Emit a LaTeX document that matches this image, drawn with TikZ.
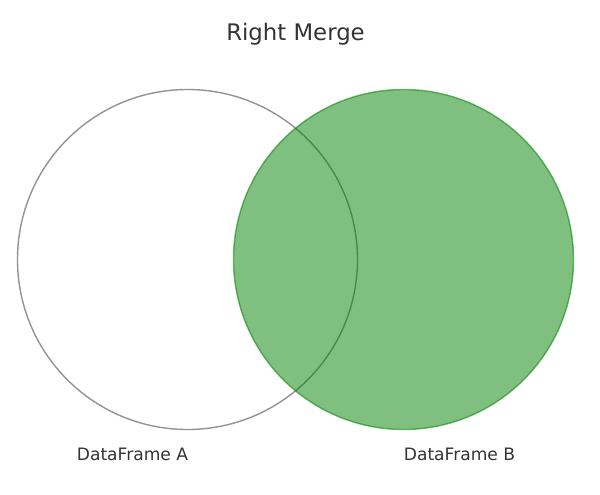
\documentclass[tikz,border=0pt]{standalone}
\usepackage{fontspec}
\setmainfont{DejaVu Sans}
\definecolor{txt}{HTML}{333333}
\definecolor{mgreen}{HTML}{008000}
\begin{document}
\begin{tikzpicture}[x=1pt,y=-1pt,
  setA/.style={draw=gray!85, line width=1.4pt},
  setB/.style={fill=mgreen, fill opacity=0.5, draw=mgreen, draw opacity=0.55, line width=1.4pt},
  lbl/.style={text=txt, font=\fontsize{17.1}{20}\selectfont, inner sep=0pt},
  ttl/.style={text=txt, font=\fontsize{22.8}{26}\selectfont, inner sep=0pt}]
\useasboundingbox (0,0) rectangle (600,495);
\coordinate (ca) at (187.5,259.5);
\coordinate (cb) at (403.5,259.5);
\draw[setA] (ca) circle[radius=170];
\path[setB] (cb) circle[radius=170];
\node[ttl] (title) at (295.5,34.5) {Right Merge};
\node[lbl] (la) at (132.5,454) {DataFrame A};
\node[lbl] (lb) at (459.5,454) {DataFrame B};
\end{tikzpicture}
\end{document}
